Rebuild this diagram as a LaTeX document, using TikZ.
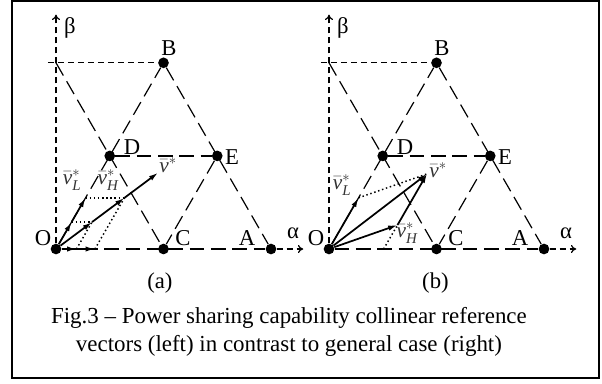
\documentclass[tikz,border=0pt]{standalone}
\usepackage{amsmath}
\usepackage{fontspec}
\setmainfont{Liberation Serif}
\usetikzlibrary{arrows.meta}
\newcommand{\vref}[1]{$\bar{\text{\itshape v}}^{*}_{\text{\itshape #1}}$}
\tikzset{
  dot/.style={circle,fill,inner sep=0pt,minimum size=8pt},
  grid/.style={dash pattern=on 11pt off 5pt,line width=0.9pt},
  guide/.style={dash pattern=on 4.5pt off 3pt,line width=0.9pt},
  axis/.style={guide,-{To[length=4pt,width=6pt]}},
  vec/.style={line width=1.3pt,-{Latex[length=7pt,width=4pt]}},
  proj/.style={dotted,line width=1.1pt},
  lbl/.style={font=\fontsize{17}{19}\selectfont,inner sep=1pt},
  vlbl/.style={font=\fontsize{16}{18}\selectfont,text=black!80,inner sep=0pt}
}
\begin{document}
\begin{tikzpicture}[x=80.625pt,y=80.625pt]
  \useasboundingbox (-0.5209,-1.2465) rectangle (5.0791,2.3163);
  \draw[line width=1.2pt] (-0.409,-1.2) rectangle (5.051,2.305);
  % (a) collinear
  \begin{scope}
    \node[dot] (Oa) at (0,0) {};
    \node[dot] (Ca) at (1,0) {};
    \node[dot] (Aa) at (2,0) {};
    \node[dot] (Da) at (0.5,0.866) {};
    \node[dot] (Ea) at (1.5,0.866) {};
    \node[dot] (Ba) at (1,1.732) {};
    \coordinate (Ta) at (0,1.732);
    \coordinate (ta) at (-0.075,1.732);
    \coordinate (ya) at (0,2.18);
    \coordinate (xa) at (2.3,0);
    \draw[axis] (Oa) -- (ya);
    \draw[axis] (Aa) -- (xa);
    \draw[guide] (ta) -- (Ba);
    \draw[grid] (Oa) -- (Aa);
    \draw[grid] (Oa) -- (Ba);
    \draw[grid] (Ba) -- (Aa);
    \draw[grid] (Ta) -- (Ca);
    \draw[grid] (Da) -- (Ea);
    \draw[grid] (Ea) -- (Ca);
    \coordinate (la) at (0.1447,0.2506);
    \coordinate (ha) at (0.1906,0);
    \coordinate (sa) at (0.335,0.2506);
    \coordinate (La) at (0.2747,0.4757);
    \coordinate (Ha) at (0.3618,0);
    \coordinate (Sa) at (0.6365,0.4757);
    \coordinate (Va) at (0.95,0.71);
    \draw[proj] (la) -- (sa);
    \draw[proj] (ha) -- (sa);
    \draw[proj] (La) -- (Sa);
    \draw[proj] (Ha) -- (Sa);
    \draw[vec] (Oa) -- (la);
    \draw[vec] (la) -- (La);
    \draw[vec] (Oa) -- (ha);
    \draw[vec] (ha) -- (Ha);
    \draw[vec] (Oa) -- (sa);
    \draw[vec] (sa) -- (Sa);
    \draw[vec] (Sa) -- (Va);
    \node[lbl] at (-0.121,0.102) {O};
    \node[lbl] at (1.181,0.102) {C};
    \node[lbl] at (1.777,0.102) {A};
    \node[lbl] at (0.707,0.949) {D};
    \node[lbl] at (1.637,0.856) {E};
    \node[lbl] at (1.051,1.870) {B};
    \node[lbl] at (2.205,0.149) {α};
    \node[lbl] at (0.130,2.056) {β};
    \node[vlbl] at (0.149,0.642) {\vref{L}};
    \node[vlbl] at (0.484,0.642) {\vref{H}};
    \node[vlbl] at (1.042,0.753) {\vref{}};
    \node[lbl] at (0.967,-0.316) {(a)};
  \end{scope}
  % (b) general case
  \begin{scope}[shift={(2.5395,0)}]
    \node[dot] (Ob) at (0,0) {};
    \node[dot] (Cb) at (1,0) {};
    \node[dot] (Ab) at (2,0) {};
    \node[dot] (Db) at (0.5,0.866) {};
    \node[dot] (Eb) at (1.5,0.866) {};
    \node[dot] (Bb) at (1,1.732) {};
    \coordinate (Tb) at (0,1.732);
    \coordinate (tb) at (-0.075,1.732);
    \coordinate (yb) at (0,2.18);
    \coordinate (xb) at (2.3,0);
    \draw[axis] (Ob) -- (yb);
    \draw[axis] (Ab) -- (xb);
    \draw[guide] (tb) -- (Bb);
    \draw[grid] (Ob) -- (Ab);
    \draw[grid] (Ob) -- (Bb);
    \draw[grid] (Bb) -- (Ab);
    \draw[grid] (Tb) -- (Cb);
    \draw[grid] (Db) -- (Eb);
    \draw[grid] (Eb) -- (Cb);
    \coordinate (Lb) at (0.275,0.476);
    \coordinate (Hb) at (0.637,0.223);
    \coordinate (Pb) at (0.508,0);
    \coordinate (Vb) at (0.912,0.699);
    \draw[proj] (Lb) -- (Vb);
    \draw[proj] (Pb) -- (Hb);
    \draw[vec] (Ob) -- (Lb);
    \draw[vec] (Ob) -- (Hb);
    \draw[vec] (Hb) -- (Vb);
    \draw[vec] (Ob) -- (Vb);
    \node[lbl] at (-0.121,0.102) {O};
    \node[lbl] at (1.181,0.102) {C};
    \node[lbl] at (1.777,0.102) {A};
    \node[lbl] at (0.707,0.949) {D};
    \node[lbl] at (1.637,0.856) {E};
    \node[lbl] at (1.051,1.870) {B};
    \node[lbl] at (2.205,0.149) {α};
    \node[lbl] at (0.130,2.056) {β};
    \node[vlbl] at (0.121,0.595) {\vref{L}};
    \node[vlbl] at (0.726,0.149) {\vref{H}};
    \node[vlbl] at (1.014,0.707) {\vref{}};
    \node[lbl] at (0.99,-0.316) {(b)};
  \end{scope}
  \node[align=center,font=\fontsize{17.2}{21.5}\selectfont] (cap) at (2.167,-0.77)
    {Fig.3 – Power sharing capability collinear reference\\vectors (left) in contrast to general case (right)};
\end{tikzpicture}
\end{document}
